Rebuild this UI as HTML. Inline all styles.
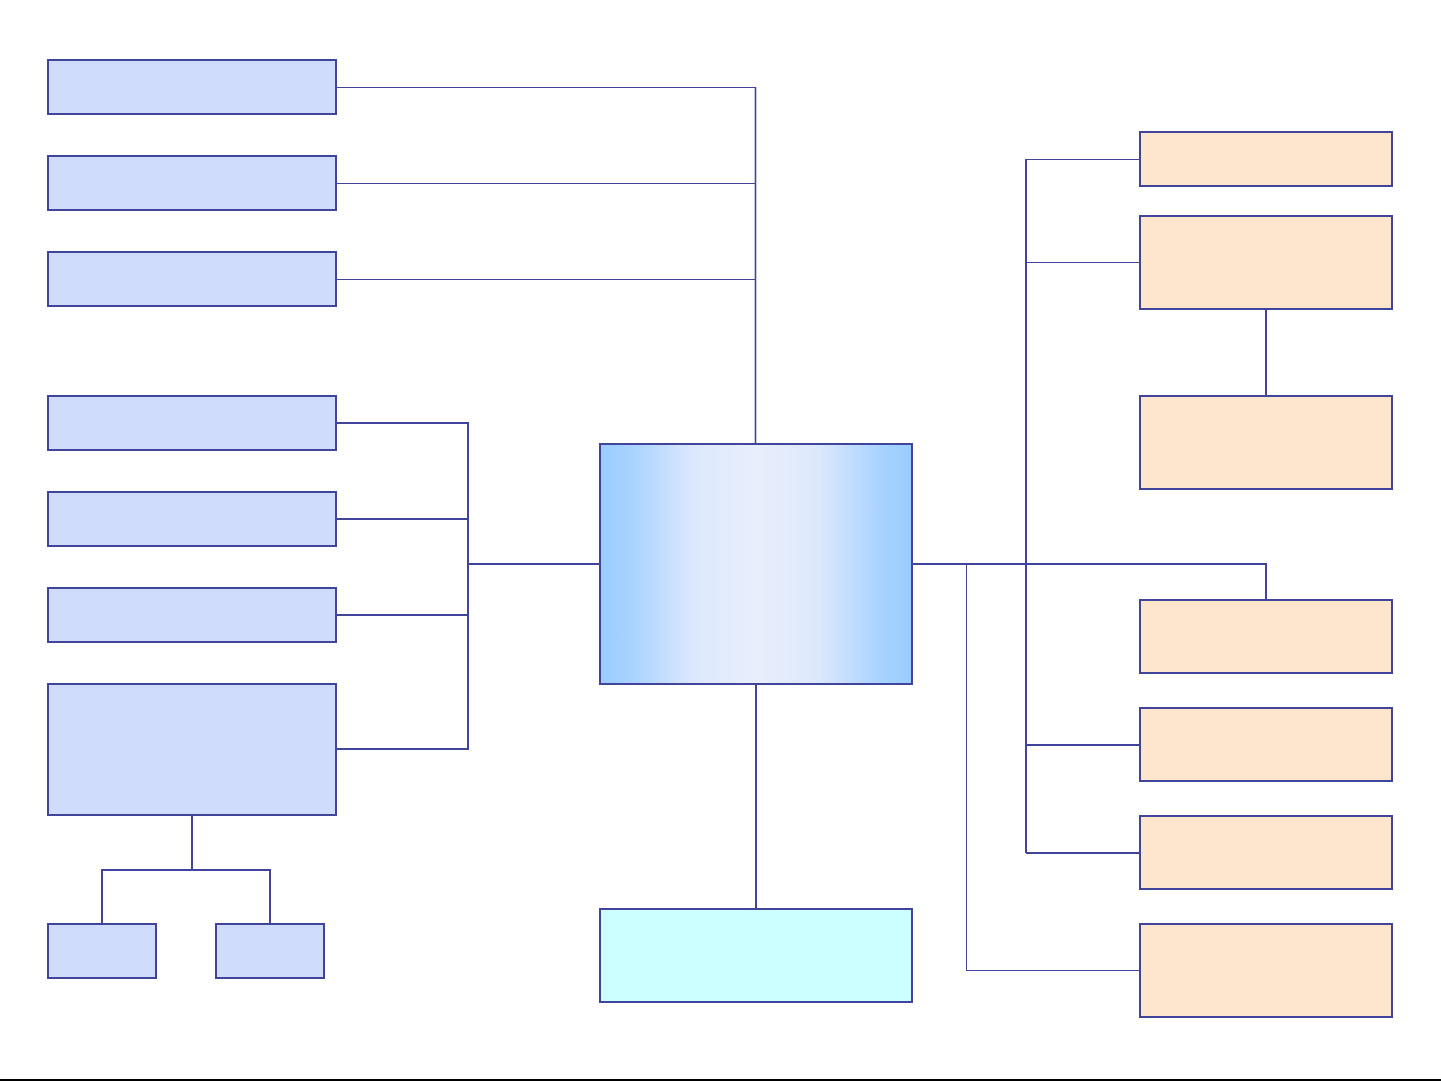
<!DOCTYPE html>
<html><head><meta charset="utf-8"><style>html,body{margin:0;padding:0;background:#fff;width:1441px;height:1081px;overflow:hidden}</style></head>
<body>
<svg width="1441" height="1081" viewBox="0 0 1441 1081" xmlns="http://www.w3.org/2000/svg">
<defs>
<linearGradient id="g" x1="0" x2="1" y1="0" y2="0">
<stop offset="0" stop-color="#99ccff"/><stop offset="0.1" stop-color="#a8d2ff"/>
<stop offset="0.3" stop-color="#dde8fd"/><stop offset="0.5" stop-color="#e9eefc"/>
<stop offset="0.7" stop-color="#dde8fd"/><stop offset="0.9" stop-color="#a8d2ff"/>
<stop offset="1" stop-color="#99ccff"/></linearGradient>
</defs>
<g fill="none" stroke="#40449a" stroke-width="1" shape-rendering="crispEdges">
<path d="M336 87.5H755.5M336 183.5H756M336 279.5H756"/>
<path d="M966.5 564V970.5H1140"/>
<path d="M1026 159.5H1140M1026 262.5H1140"/>
</g>
<path d="M755.5 87V444" stroke="#40449a" stroke-width="1.6" fill="none"/>
<g fill="none" stroke="#40449a" stroke-width="2">
<path d="M336 423H468V749H336M336 519H468M336 615H468M468 564H600"/>
<path d="M192 815V870M102 924V870H270V924"/>
<path d="M756 684V909"/>
<path d="M912 564H1266V600M1026 159V853M1026 745H1140M1026 853H1140"/>
<path d="M1266 309V396"/>
</g>
<g stroke="#40449a" stroke-width="2" fill="#cfdcfc">
<rect x="48" y="60" width="288" height="54"/>
<rect x="48" y="156" width="288" height="54"/>
<rect x="48" y="252" width="288" height="54"/>
<rect x="48" y="396" width="288" height="54"/>
<rect x="48" y="492" width="288" height="54"/>
<rect x="48" y="588" width="288" height="54"/>
<rect x="48" y="684" width="288" height="131"/>
<rect x="48" y="924" width="108" height="54"/>
<rect x="216" y="924" width="108" height="54"/>
</g>
<rect x="600" y="444" width="312" height="240" fill="url(#g)" stroke="#40449a" stroke-width="2"/>
<rect x="600" y="909" width="312" height="93" fill="#ccffff" stroke="#40449a" stroke-width="2"/>
<g stroke="#40449a" stroke-width="2" fill="#fee5ce">
<rect x="1140" y="132" width="252" height="54"/>
<rect x="1140" y="216" width="252" height="93"/>
<rect x="1140" y="396" width="252" height="93"/>
<rect x="1140" y="600" width="252" height="73"/>
<rect x="1140" y="708" width="252" height="73"/>
<rect x="1140" y="816" width="252" height="73"/>
<rect x="1140" y="924" width="252" height="93"/>
</g>
<rect x="0" y="1079" width="1441" height="2" fill="#000"/>
</svg>
</body></html>
